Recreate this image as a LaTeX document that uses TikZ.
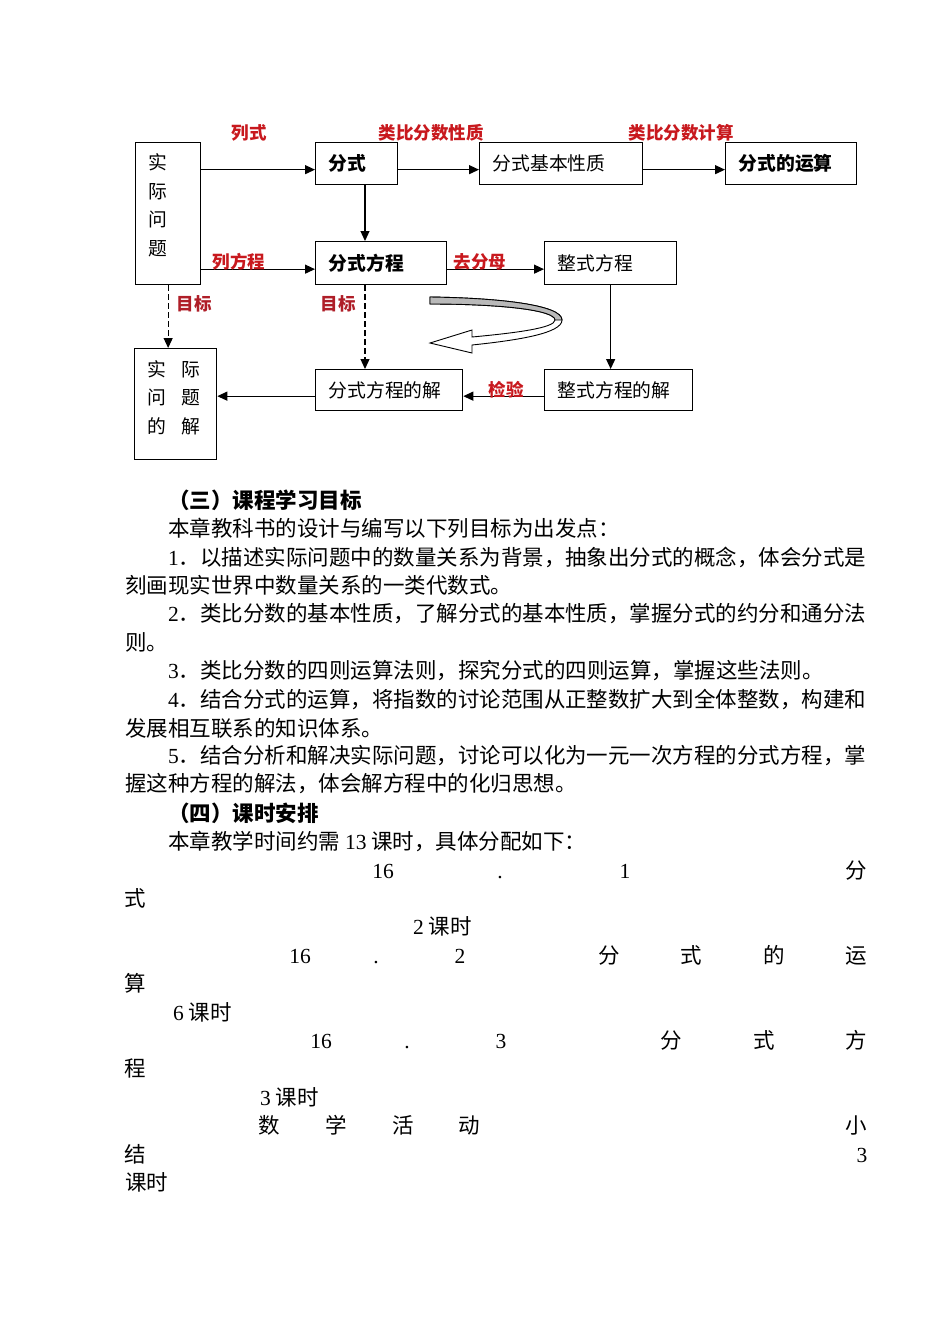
\documentclass[tikz,border=0pt]{standalone}
\usepackage{graphicx}
\usepackage{fontspec}
\setmainfont{Noto Sans CJK SC}
\newfontfamily\lat{Liberation Serif}
\usetikzlibrary{arrows.meta}
\definecolor{lab}{RGB}{200,25,30}
\definecolor{goal}{RGB}{175,30,40}
\newcommand{\jl}[2]{\resizebox{#1}{\height}{#2}}
\begin{document}
\begin{tikzpicture}[x=1pt,y=-1pt,
 bx/.style={draw, line width=1.3pt, inner xsep=13pt, inner ysep=0pt, align=left, anchor=north west, font=\fontsize{18.8}{28.5}\selectfont},
 bbx/.style={bx, font=\bfseries\fontsize{18.8}{28.5}\selectfont},
 arr/.style={line width=1.2pt, -{Triangle[length=10pt,width=9pt]}},
 darr/.style={arr, dashed, dash pattern=on 6pt off 3pt},
 lbl/.style={text=lab, font=\bfseries\fontsize{17.5}{18}\selectfont, inner sep=0pt},
 txt/.style={anchor=west, inner sep=0pt, font=\fontsize{21.5}{28}\selectfont},
 htxt/.style={txt, font=\bfseries\fontsize{21.5}{28}\selectfont},
 tok/.style={inner sep=0pt, anchor=base, font=\fontsize{21.5}{28}\selectfont},
]
\useasboundingbox (0,0) rectangle (950,1342);

% ---------- boxes ----------
\node[bx, text width=39pt, minimum height=142pt] (sj) at (135,142) {实\\际\\问\\题\\[-10pt]\mbox{}};
\node[bbx, text width=56pt, minimum height=42pt] (fs) at (315,142) {分式};
\node[bx, text width=137pt, minimum height=42pt] (fx) at (479,142) {分式基本性质};
\node[bbx, text width=105pt, minimum height=42pt] (fy) at (725,142) {分式的运算};
\node[bbx, text width=105pt, minimum height=43pt] (ff) at (315,241) {分式方程};
\node[bx, text width=106pt, minimum height=43pt] (zf) at (544,241) {整式方程};
\node[bx, text width=56pt, minimum height=111pt] (sjj) at (134,348) {实\hspace{15pt}际\\问\hspace{15pt}题\\的\hspace{15pt}解\\[-14pt]\mbox{}};
\node[bx, text width=121pt, minimum height=41pt] (fj) at (315,369) {分式方程的解};
\node[bx, text width=122pt, minimum height=41pt] (zj) at (544,369) {整式方程的解};

\coordinate (vx) at (365,0);

% ---------- connectors ----------
\draw[arr] ([yshift=-6pt]sj.east |- fs.west) -- ([yshift=-6pt]fs.west);
\draw[arr] ([yshift=-6pt]fs.east) -- ([yshift=-6pt]fx.west);
\draw[arr] ([yshift=-6pt]fx.east) -- ([yshift=-6pt]fy.west);
\draw[arr] (fs.south -| vx) -- (ff.north -| vx);
\draw[arr] ([yshift=-6pt]sj.east |- ff.west) -- ([yshift=-6pt]ff.west);
\draw[arr] ([yshift=-6pt]ff.east) -- ([yshift=-6pt]zf.west);
\draw[arr] (zf.south) -- (zf.south |- zj.north);
\draw[arr] ([yshift=-6pt]zj.west) -- ([yshift=-6pt]fj.east);
\draw[arr] ([yshift=-6pt]fj.west) -- ([yshift=-6pt]sjj.east |- fj.west);
\draw[darr] (sj.south) -- (sj.south |- sjj.north);
\draw[darr] (ff.south -| vx) -- (fj.north -| vx);

% ---------- labels ----------
\node[lbl] (l1) at (249,133) {列式};
\node[lbl] (l2) at (431,133) {类比分数性质};
\node[lbl] (l3) at (681,133) {类比分数计算};
\node[lbl] (l4) at (239,262) {列方程};
\node[lbl] (l5) at (480,262) {去分母};
\node[lbl] (l6) at (506,390) {检验};
\node[lbl, text=goal] (l7) at (194,304) {目标};
\node[lbl, text=goal] (l8) at (338,304) {目标};

% ---------- curved hollow arrow ----------
\draw[line width=0.9pt, fill=white]
 (430,297) .. controls (500,298) and (562,305) .. (562,320)
 .. controls (562,333) and (520,340) .. (472,345)
 -- (472,353) -- (430,343) -- (472,330) -- (472,337)
 .. controls (515,333) and (555,328) .. (555,320)
 .. controls (555,310) and (500,304) .. (430,304) -- cycle;
\draw[line width=0.9pt, fill=gray!55]
 (430,297) .. controls (500,298) and (562,305) .. (562,320)
 -- (555,320) .. controls (555,310) and (500,304) .. (430,304) -- cycle;

% ---------- text ----------
\node[htxt] (h3) at (168,500) {（三）课程学习目标};
\node[txt] (t1) at (168,528) {本章教科书的设计与编写以下列目标为出发点：};
\node[txt] (t2) at (168,557) {\jl{698pt}{{\lat 1}．以描述实际问题中的数量关系为背景，抽象出分式的概念，体会分式是}};
\node[txt] (t3) at (125,585) {刻画现实世界中数量关系的一类代数式。};
\node[txt] (t4) at (168,614) {\jl{698pt}{{\lat 2}．类比分数的基本性质，了解分式的基本性质，掌握分式的约分和通分法}};
\node[txt] (t5) at (125,642) {则。};
\node[txt] (t6) at (168,671) {{\lat 3}．类比分数的四则运算法则，探究分式的四则运算，掌握这些法则。};
\node[txt] (t7) at (168,699) {\jl{698pt}{{\lat 4}．结合分式的运算，将指数的讨论范围从正整数扩大到全体整数，构建和}};
\node[txt] (t8) at (125,728) {发展相互联系的知识体系。};
\node[txt] (t9) at (168,756) {\jl{698pt}{{\lat 5}．结合分析和解决实际问题，讨论可以化为一元一次方程的分式方程，掌}};
\node[txt] (t10) at (125,784) {握这种方程的解法，体会解方程中的化归思想。};
\node[htxt] (h4) at (168,813) {（四）课时安排};
\node[txt] (t11) at (168,841) {本章教学时间约需 {\lat 13} 课时，具体分配如下：};

% schedule (baselines = line centre + 8)
\foreach \x/\t [count=\i] in {383/{\lat 16},500/{\lat .},625/{\lat 1},856/分}
  \node[tok] (a\i) at (\x,878) {\t};
\node[tok] (a5) at (135,906) {式};
\node[txt] (a6) at (413,926) {{\lat 2} 课时};
\foreach \x/\t [count=\i] in {300/{\lat 16},376/{\lat .},460/{\lat 2},609/分,691/式,774/的,856/运}
  \node[tok] (b\i) at (\x,963) {\t};
\node[tok] (b8) at (135,991) {算};
\node[txt] (b9) at (173,1012) {{\lat 6} 课时};
\foreach \x/\t [count=\i] in {321/{\lat 16},407/{\lat .},501/{\lat 3},671/分,764/式,856/方}
  \node[tok] (c\i) at (\x,1048) {\t};
\node[tok] (c7) at (135,1076) {程};
\node[txt] (c8) at (260,1097) {{\lat 3} 课时};
\foreach \x/\t [count=\i] in {269/数,336/学,403/活,469/动,856/小}
  \node[tok] (d\i) at (\x,1133) {\t};
\node[tok] (d6) at (135,1162) {结};
\node[tok] (d7) at (862,1162) {{\lat 3}};
\node[txt] (d8) at (125,1182) {课时};
\end{tikzpicture}
\end{document}
